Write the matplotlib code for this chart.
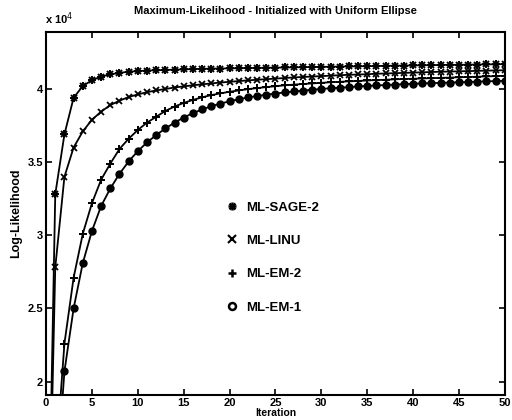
import matplotlib
matplotlib.use("Agg")
import matplotlib.pyplot as plt
from matplotlib.lines import Line2D
from matplotlib.ticker import FormatStrFormatter

plt.rcParams['font.family'] = ['Liberation Sans', 'DejaVu Sans']

iterations = list(range(0, 51))

# Log-likelihood values in units of 1e4
ml_sage2 = [0.0, 3.28, 3.69, 3.94, 4.02, 4.06, 4.085, 4.10, 4.11, 4.118, 4.122,
            4.126, 4.128, 4.130, 4.132, 4.134, 4.136, 4.137, 4.139, 4.140, 4.141,
            4.142, 4.143, 4.144, 4.145, 4.146, 4.147, 4.148, 4.149, 4.150, 4.151,
            4.152, 4.153, 4.154, 4.155, 4.156, 4.157, 4.158, 4.159, 4.160, 4.161,
            4.162, 4.163, 4.164, 4.165, 4.165, 4.166, 4.167, 4.168, 4.169, 4.170]
ml_linu = [0.0, 2.78, 3.40, 3.60, 3.71, 3.79, 3.845, 3.89, 3.92, 3.945, 3.963,
           3.978, 3.990, 4.000, 4.010, 4.018, 4.025, 4.032, 4.038, 4.044, 4.049,
           4.054, 4.059, 4.063, 4.067, 4.071, 4.075, 4.079, 4.082, 4.085, 4.088,
           4.091, 4.094, 4.097, 4.099, 4.101, 4.104, 4.106, 4.108, 4.110, 4.112,
           4.114, 4.116, 4.118, 4.119, 4.121, 4.122, 4.124, 4.125, 4.127, 4.128]
ml_em2 = [0.0, 1.40, 2.26, 2.71, 3.01, 3.22, 3.38, 3.49, 3.59, 3.66, 3.72,
          3.77, 3.81, 3.85, 3.88, 3.905, 3.925, 3.943, 3.958, 3.970, 3.981,
          3.990, 3.999, 4.006, 4.013, 4.019, 4.025, 4.030, 4.034, 4.038, 4.042,
          4.046, 4.049, 4.052, 4.055, 4.058, 4.061, 4.063, 4.066, 4.068, 4.070,
          4.072, 4.074, 4.076, 4.078, 4.080, 4.082, 4.084, 4.086, 4.088, 4.090]
ml_em1 = [0.0, 1.20, 2.07, 2.50, 2.81, 3.03, 3.20, 3.32, 3.42, 3.505, 3.575,
          3.635, 3.685, 3.73, 3.77, 3.805, 3.835, 3.86, 3.882, 3.90, 3.916,
          3.93, 3.942, 3.952, 3.961, 3.969, 3.976, 3.983, 3.989, 3.995, 4.0,
          4.005, 4.009, 4.013, 4.017, 4.021, 4.024, 4.027, 4.030, 4.033, 4.036,
          4.038, 4.040, 4.042, 4.044, 4.046, 4.048, 4.050, 4.052, 4.054, 4.056]

labels = ['ML-SAGE-2', 'ML-LINU', 'ML-EM-2', 'ML-EM-1']
xticks = list(range(0, 51, 5))
yticks = [2, 2.5, 3, 3.5, 4]

fig = plt.figure(figsize=(5.12, 4.2), dpi=100)
ax = fig.add_axes([0.090, 0.060, 0.896, 0.864])

lw = 1.3
ax.plot(iterations, ml_sage2, color='black', lw=lw, marker='x', ms=5, mew=1.4)
ax.plot(iterations, ml_sage2, color='black', lw=0, marker='+', ms=6, mew=1.4)
ax.plot(iterations, ml_linu, color='black', lw=lw, marker='x', ms=5, mew=1.3)
ax.plot(iterations, ml_em2, color='black', lw=lw, marker='+', ms=6, mew=1.4)
ax.plot(iterations, ml_em1, color='black', lw=lw, marker='o', ms=5, mfc='black', mec='black')

ax.set_xlim(0, 50)
ax.set_ylim(1.91, 4.39)
ax.set_xticks(xticks)
ax.set_yticks(yticks)
ax.yaxis.set_major_formatter(FormatStrFormatter('%g'))
ax.tick_params(direction='in', length=4, width=1.2, top=True, right=True,
               labelsize=8, pad=2)
for lab in ax.get_xticklabels() + ax.get_yticklabels():
    lab.set_fontweight('bold')
for s in ax.spines.values():
    s.set_linewidth(1.5)

ax.set_title('Maximum-Likelihood - Initialized with Uniform Ellipse',
             fontsize=8, fontweight='bold', pad=13)
ax.set_xlabel('Iteration', fontsize=7.5, fontweight='bold', labelpad=0)
ax.set_ylabel('Log-Likelihood', fontsize=9, fontweight='bold', labelpad=4)
fig.text(0.088, 0.935, r'x 10$^{4}$', fontsize=8, fontweight='bold', ha='left', va='bottom')

h_sage = (Line2D([], [], ls='none', color='black', marker='x', ms=5, mew=1.8),
          Line2D([], [], ls='none', color='black', marker='+', ms=6, mew=1.8))
handles = [
    h_sage,
    Line2D([], [], ls='none', color='black', marker='x', ms=5.5, mew=1.5),
    Line2D([], [], ls='none', color='black', marker='+', ms=6, mew=1.8),
    Line2D([], [], ls='none', color='black', marker='o', ms=5, mfc='white', mew=1.8),
]
leg = ax.legend(handles, labels, loc='upper left', bbox_to_anchor=(0.366, 0.566),
                frameon=False, handlelength=1.0, handletextpad=0.5,
                labelspacing=1.6, prop={'size': 9.5, 'weight': 'bold'})

fig.savefig('out.png', dpi=100)
